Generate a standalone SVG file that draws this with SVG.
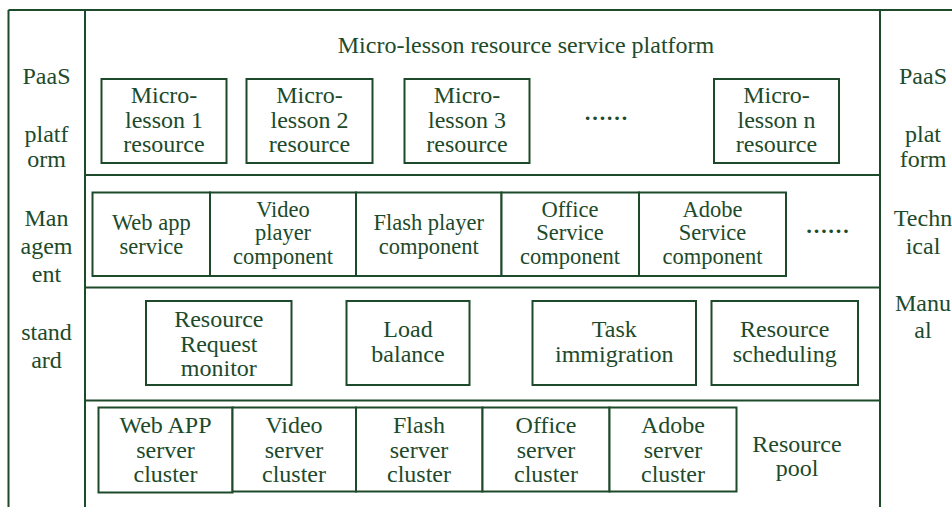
<svg xmlns="http://www.w3.org/2000/svg" width="952" height="507" viewBox="0 0 952 507">
<style>
.ln{stroke:#1d4a2b;stroke-width:2;fill:none}
.bx{stroke:#1d4a2b;stroke-width:2;fill:#fff}
text{font-family:"Liberation Serif","Times New Roman",serif;font-size:24px;fill:#1d4a2b;text-anchor:middle}
.r2 text{font-size:22.5px}
.dots{font-size:22px;font-weight:bold}
</style>
<rect width="952" height="507" fill="#fff"/>
<g id="frame">
<line class="ln" x1="8.5" y1="10" x2="952" y2="10"/>
<line class="ln" x1="8.5" y1="10" x2="8.5" y2="507"/>
<line class="ln" x1="85" y1="10" x2="85" y2="507"/>
<line class="ln" x1="880" y1="10" x2="880" y2="507"/>
<line class="ln" x1="85" y1="175" x2="880" y2="175"/>
<line class="ln" x1="85" y1="287.5" x2="880" y2="287.5"/>
<line class="ln" x1="85" y1="400.5" x2="880" y2="400.5"/>
</g>
<g id="left-column">
<text x="46.5" y="84">PaaS</text>
<text x="46.5" y="142">platf</text>
<text x="46.5" y="167">orm</text>
<text x="46.5" y="226">Man</text>
<text x="46.5" y="254">agem</text>
<text x="46.5" y="282">ent</text>
<text x="46.5" y="340">stand</text>
<text x="46.5" y="368">ard</text>
</g>
<g id="right-column">
<text x="923" y="84">PaaS</text>
<text x="923" y="142">plat</text>
<text x="923" y="167">form</text>
<text x="923" y="226">Techn</text>
<text x="923" y="254">ical</text>
<text x="923" y="311">Manu</text>
<text x="923" y="338">al</text>
</g>
<g id="platform-title">
<text x="526" y="53">Micro-lesson resource service platform</text>
</g>
<g id="ml1"><rect class="bx" x="101.5" y="79" width="125" height="84"/><text x="164" y="103">Micro-</text><text x="164" y="127.5">lesson 1</text><text x="164" y="152">resource</text></g>
<g id="ml2"><rect class="bx" x="246.5" y="79" width="126" height="84"/><text x="309.5" y="103">Micro-</text><text x="309.5" y="127.5">lesson 2</text><text x="309.5" y="152">resource</text></g>
<g id="ml3"><rect class="bx" x="404.5" y="79" width="125" height="84"/><text x="467" y="103">Micro-</text><text x="467" y="127.5">lesson 3</text><text x="467" y="152">resource</text></g>
<g id="ml-dots"><text class="dots" x="606" y="120">……</text></g>
<g id="mln"><rect class="bx" x="714" y="79" width="125" height="84"/><text x="776.5" y="103">Micro-</text><text x="776.5" y="127.5">lesson n</text><text x="776.5" y="152">resource</text></g>
<g id="webapp" class="r2"><rect class="bx" x="92.5" y="192.5" width="117.5" height="83.5"/><text x="151.3" y="230">Web app</text><text x="151.3" y="253.5">service</text></g>
<g id="videoplayer" class="r2"><rect class="bx" x="210" y="192.5" width="146" height="83.5"/><text x="283" y="216.5">Video</text><text x="283" y="240">player</text><text x="283" y="263.5">component</text></g>
<g id="flashplayer" class="r2"><rect class="bx" x="356" y="192.5" width="145.5" height="83.5"/><text x="428.7" y="230">Flash player</text><text x="428.7" y="253.5">component</text></g>
<g id="officeservice" class="r2"><rect class="bx" x="501.5" y="192.5" width="137.5" height="83.5"/><text x="570" y="216.5">Office</text><text x="570" y="240">Service</text><text x="570" y="263.5">component</text></g>
<g id="adobeservice" class="r2"><rect class="bx" x="639" y="192.5" width="147" height="83.5"/><text x="712.5" y="216.5">Adobe</text><text x="712.5" y="240">Service</text><text x="712.5" y="263.5">component</text></g>
<g id="svc-dots"><text class="dots" x="827.5" y="233">……</text></g>
<g id="monitor"><rect class="bx" x="146" y="301" width="145.5" height="84"/><text x="218.8" y="327">Resource</text><text x="218.8" y="351.5">Request</text><text x="218.8" y="375.5">monitor</text></g>
<g id="loadbalance"><rect class="bx" x="346.5" y="301" width="123" height="84"/><text x="408" y="337">Load</text><text x="408" y="362">balance</text></g>
<g id="taskimmigration"><rect class="bx" x="532.5" y="301" width="163.5" height="84"/><text x="614.3" y="337">Task</text><text x="614.3" y="362">immigration</text></g>
<g id="scheduling"><rect class="bx" x="711.5" y="301" width="146.5" height="84"/><text x="784.7" y="337">Resource</text><text x="784.7" y="362">scheduling</text></g>
<g id="webappcluster"><rect class="bx" x="98.5" y="407.5" width="134" height="85"/><text x="165.5" y="433">Web APP</text><text x="165.5" y="457.5">server</text><text x="165.5" y="482">cluster</text></g>
<g id="videocluster"><rect class="bx" x="232.5" y="407.5" width="123.5" height="84"/><text x="294" y="433">Video</text><text x="294" y="457.5">server</text><text x="294" y="482">cluster</text></g>
<g id="flashcluster"><rect class="bx" x="356" y="407.5" width="126.5" height="84"/><text x="419" y="433">Flash</text><text x="419" y="457.5">server</text><text x="419" y="482">cluster</text></g>
<g id="officecluster"><rect class="bx" x="482.5" y="407.5" width="127" height="84"/><text x="546" y="433">Office</text><text x="546" y="457.5">server</text><text x="546" y="482">cluster</text></g>
<g id="adobecluster"><rect class="bx" x="609.5" y="407.5" width="127" height="84"/><text x="673" y="433">Adobe</text><text x="673" y="457.5">server</text><text x="673" y="482">cluster</text></g>
<g id="resourcepool"><text x="797" y="452">Resource</text><text x="797" y="476">pool</text></g>
<g id="connectors"></g>
</svg>
